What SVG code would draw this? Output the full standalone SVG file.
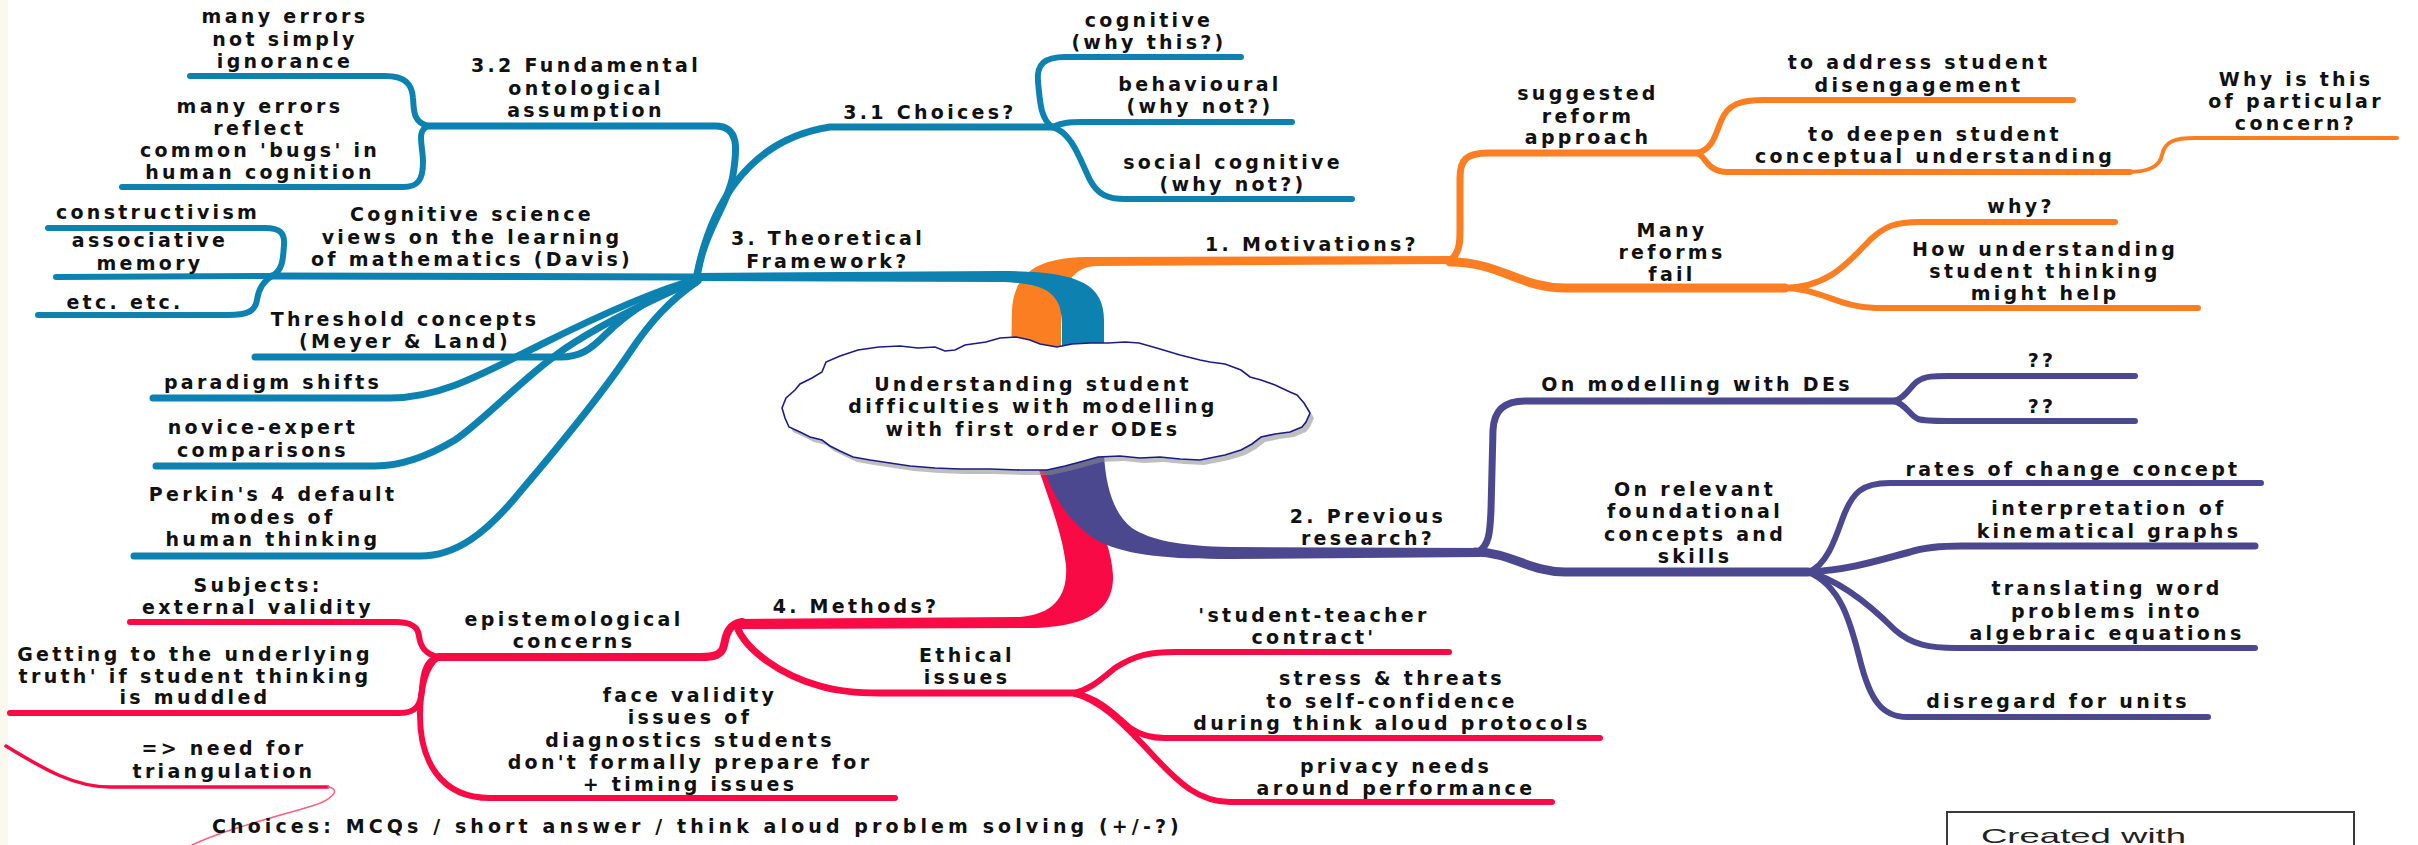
<svg xmlns="http://www.w3.org/2000/svg" width="2418" height="845" viewBox="0 0 2418 845">
<defs>
<style>
.t{font-family:"DejaVu Sans",sans-serif;font-weight:bold;font-size:19px;letter-spacing:3.3px;fill:#111;text-anchor:middle}
.ts{text-anchor:start}
.ln{fill:none;stroke-linecap:round;stroke-linejoin:round}
.b{stroke:#0d82b1}.o{stroke:#fb7f22}.p{stroke:#4c4890}.r{stroke:#f80a45}
.bf{fill:#0d82b1}.of{fill:#fb7f22}.pf{fill:#4c4890}.rf{fill:#f80a45}
.w4{stroke-width:4}.w6{stroke-width:6}.w7{stroke-width:7}.w8{stroke-width:8}.w9{stroke-width:9}
.thin{stroke:#f7607e;stroke-width:1.5}
.cloud{fill:#fff;stroke:#1c1c86;stroke-width:1.6}
.shadow{fill:#8a8a8a;opacity:.55}
.credit{font-family:"Liberation Sans",sans-serif;font-size:21px;fill:#222}
</style>
<path id="cloudShape" d="M782,408 L786,398 L795,390 L800,384 L812,378 L822,372 L826,362 L840,356 L858,350 L879,347 L900,346 L918,348 L935,347 L945,351 L955,350 L965,345 L986,342 L1000,338 L1016,337 L1030,340 L1040,344 L1057,347 L1072,344 L1090,343 L1108,343 L1125,342 L1139,343 L1160,349 L1180,355 L1200,360 L1210,362 L1225,364 L1241,370 L1250,377 L1261,380 L1275,385 L1290,392 L1297,395 L1304,403 L1310,413 L1306,422 L1302,427 L1290,432 L1275,434 L1261,437 L1252,444 L1241,450 L1225,455 L1210,458 L1200,460 L1180,459 L1160,457 L1140,458 L1120,456 L1098,457 L1080,462 L1065,466 L1047,470 L1020,470 L990,469 L960,469 L935,468 L910,466 L890,463 L870,460 L853,457 L840,451 L830,446 L822,440 L810,437 L800,432 L789,427 L785,418 Z"/>
</defs>
<rect x="0" y="0" width="2418" height="845" fill="#fff"/>
<rect x="0" y="0" width="8" height="845" fill="#fbf8ee"/>

<g id="connectors">
  <!-- red trunk and branches -->
  <path class="rf" d="M1034,455 C1045,490 1062,530 1066,565 C1068,595 1055,614 1020,617 L740,619 L740,629 L1030,628 C1095,627 1114,605 1113,575 C1111,540 1090,500 1062,455 Z"/>
  <path class="ln r w8" d="M742,622 C728,624 726,635 724,645 C722,655 715,657 700,657 L439,657"/>
  <path class="ln r w7" d="M737,627 C746,650 780,675 820,686 C840,692 860,693 880,693 L1073,693"/>
  <path class="ln r w6" d="M439,657 C425,655 420,645 419,636 C418,626 410,622 395,622 L130,622"/>
  <path class="ln r w6" d="M439,657 C425,660 423,675 422,690 C421,706 415,713 400,713 L10,713"/>
  <path class="ln r w6" d="M439,657 C425,665 420,690 420,715 C420,760 440,798 490,798 L895,798"/>
  <path class="ln r w6" d="M1073,693 C1090,690 1100,680 1115,668 C1135,655 1150,652 1176,652 L1449,652"/>
  <path class="ln r w6" d="M1073,693 C1100,698 1115,715 1130,728 C1140,735 1150,738 1165,738 L1600,738"/>
  <path class="ln r w6" d="M1073,693 C1100,700 1120,720 1150,752 C1180,785 1200,802 1230,802 L1552,802"/>
  <path class="ln r" stroke-width="3.5" d="M6,746 C45,770 75,787 110,787 L328,787"/>
  <path class="ln thin" d="M328,787 C342,789 332,800 312,806 C272,818 222,830 188,847"/>

  <!-- purple trunk and branches -->
  <path class="pf" d="M1040,455 C1050,495 1070,525 1100,542 C1130,556 1170,559 1230,559 L1480,557 L1480,548 L1230,547 C1180,546 1150,540 1132,528 C1115,515 1106,490 1104,455 Z"/>
  <path class="ln p w7" d="M1478,552 C1490,545 1490,530 1491,510 L1493,430 C1494,410 1505,401 1525,401 L1894,401"/>
  <path class="ln p w9" d="M1475,552 C1510,552 1530,572 1565,572 L1808,572"/>
  <path class="ln p w6" d="M1894,401 C1906,398 1910,386 1918,381 C1925,376 1935,376 1947,376 L2135,376"/>
  <path class="ln p w6" d="M1894,401 C1906,404 1910,416 1918,419 C1925,421 1935,421 1947,421 L2135,421"/>
  <path class="ln p w6" d="M1808,572 C1826,566 1835,540 1842,520 C1852,492 1862,483 1890,483 L2261,483"/>
  <path class="ln p w7" d="M1808,572 C1850,570 1880,560 1910,552 C1925,547 1940,546 1962,546 L2255,546"/>
  <path class="ln p w6" d="M1808,572 C1840,580 1870,605 1895,630 C1912,645 1930,648 1956,648 L2255,648"/>
  <path class="ln p w6" d="M1808,572 C1840,585 1850,620 1860,660 C1870,700 1882,717 1907,717 L2208,717"/>

  <!-- orange trunk and branches -->
  <path class="of" d="M1011,360 L1012,310 C1014,275 1035,258 1085,257 L1455,256 L1455,264 L1095,266 C1075,267 1061,285 1061,310 L1061,360 Z"/>
  <path class="ln o w7" d="M1452,259 C1461,250 1460,238 1460,222 L1460,178 C1460,160 1466,153 1488,153 L1697,153"/>
  <path class="ln o w9" d="M1450,262 C1500,262 1520,288 1565,288 L1785,288"/>
  <path class="ln o w6" d="M1697,153 C1712,150 1715,136 1721,121 C1728,104 1740,100 1765,100 L2073,100"/>
  <path class="ln o w6" d="M1697,153 C1706,156 1707,172 1727,172 L2130,172"/>
  <path class="ln o w4" d="M2128,172 C2150,172 2160,166 2162,155 C2165,141 2175,138 2195,138 L2397,138"/>
  <path class="ln o w6" d="M1783,288 C1830,288 1850,260 1870,240 C1885,226 1895,222 1920,222 L2115,222"/>
  <path class="ln o w6" d="M1783,288 C1820,288 1840,308 1876,308 L2198,308"/>

  <!-- blue trunk and branches -->
  <path class="bf" d="M694,273 L1000,271 C1075,271 1104,282 1104,320 L1104,360 L1062,360 L1062,325 C1062,292 1045,283 1000,282 L694,281 Z"/>
  <path class="ln b w7" d="M697,274 C710,210 745,140 830,127 L1052,127"/>
  <path class="ln b w6" d="M1052,127 C1040,118 1040,100 1038,82 C1036,64 1045,57 1065,57 L1241,57"/>
  <path class="ln b w6" d="M1052,127 C1062,123 1068,122 1082,122 L1292,122"/>
  <path class="ln b w6" d="M1052,127 C1072,132 1080,160 1090,180 C1098,195 1108,199 1125,199 L1352,199"/>
  <path class="ln b w7" d="M698,272 C705,230 728,205 733,175 C737,150 740,126 715,126 L428,126"/>
  <path class="ln b w6" d="M428,126 C412,122 414,108 413,98 C412,84 405,76 385,76 L190,76"/>
  <path class="ln b w6" d="M428,126 C416,131 423,145 423,162 C423,180 418,187 403,187 L122,187"/>
  <path class="ln b w7" d="M698,277 L272,276"/>
  <path class="ln b w6" d="M272,276 C284,270 283,255 284,245 C285,233 280,228 265,228 L48,228"/>
  <path class="ln b w6" d="M272,276 L56,277"/>
  <path class="ln b w6" d="M272,276 C262,282 258,292 257,300 C255,312 246,315 228,315 L38,315"/>
  <path class="ln b w7" d="M697,279 C660,292 630,310 605,335 C590,350 580,357 560,357 L255,357"/>
  <path class="ln b w7" d="M697,279 C650,292 590,320 540,345 C480,375 440,398 390,398 L153,398"/>
  <path class="ln b w7" d="M697,280 C660,296 610,320 575,342 C530,370 485,420 455,440 C425,458 400,466 375,466 L156,466"/>
  <path class="ln b w7" d="M698,281 C670,300 650,322 630,352 C600,397 560,445 520,492 C485,535 455,556 420,556 L134,556"/>
</g>

<g id="n-center">
  <use href="#cloudShape" class="shadow" transform="translate(4,5)"/>
  <use href="#cloudShape" class="cloud"/>
  <text class="t"><tspan x="1033" y="391">Understanding student</tspan><tspan x="1033" y="413">difficulties with modelling</tspan><tspan x="1033" y="436">with first order ODEs</tspan></text>
</g>

<g id="n-theory"><text class="t"><tspan x="828" y="245">3. Theoretical</tspan><tspan x="828" y="268">Framework?</tspan></text></g>
<g id="n-choices31"><text class="t" x="930" y="119">3.1 Choices?</text></g>
<g id="n-cognitive"><text class="t"><tspan x="1149" y="27">cognitive</tspan><tspan x="1149" y="49">(why this?)</tspan></text></g>
<g id="n-behavioural"><text class="t"><tspan x="1200" y="91">behavioural</tspan><tspan x="1200" y="113">(why not?)</tspan></text></g>
<g id="n-social"><text class="t"><tspan x="1233" y="169">social cognitive</tspan><tspan x="1233" y="191">(why not?)</tspan></text></g>
<g id="n-ontological"><text class="t"><tspan x="586" y="72">3.2 Fundamental</tspan><tspan x="586" y="95">ontological</tspan><tspan x="586" y="117">assumption</tspan></text></g>
<g id="n-errors1"><text class="t"><tspan x="285" y="23">many errors</tspan><tspan x="285" y="46">not simply</tspan><tspan x="285" y="68">ignorance</tspan></text></g>
<g id="n-errors2"><text class="t"><tspan x="260" y="113">many errors</tspan><tspan x="260" y="135">reflect</tspan><tspan x="260" y="157">common 'bugs' in</tspan><tspan x="260" y="179">human cognition</tspan></text></g>
<g id="n-cogsci"><text class="t"><tspan x="472" y="221">Cognitive science</tspan><tspan x="472" y="244">views on the learning</tspan><tspan x="472" y="266">of mathematics (Davis)</tspan></text></g>
<g id="n-constructivism"><text class="t" x="158" y="219">constructivism</text></g>
<g id="n-associative"><text class="t"><tspan x="150" y="247">associative</tspan><tspan x="150" y="270">memory</tspan></text></g>
<g id="n-etc"><text class="t" x="125" y="309">etc. etc.</text></g>
<g id="n-threshold"><text class="t"><tspan x="405" y="326">Threshold concepts</tspan><tspan x="405" y="348">(Meyer &amp; Land)</tspan></text></g>
<g id="n-paradigm"><text class="t" x="273" y="389">paradigm shifts</text></g>
<g id="n-novice"><text class="t"><tspan x="263" y="434">novice-expert</tspan><tspan x="263" y="457">comparisons</tspan></text></g>
<g id="n-perkin"><text class="t"><tspan x="273" y="501">Perkin's 4 default</tspan><tspan x="273" y="524">modes of</tspan><tspan x="273" y="546">human thinking</tspan></text></g>

<g id="n-motivations"><text class="t" x="1312" y="251">1. Motivations?</text></g>
<g id="n-suggested"><text class="t"><tspan x="1588" y="100">suggested</tspan><tspan x="1588" y="123">reform</tspan><tspan x="1588" y="144">approach</tspan></text></g>
<g id="n-address"><text class="t"><tspan x="1919" y="69">to address student</tspan><tspan x="1919" y="92">disengagement</tspan></text></g>
<g id="n-deepen"><text class="t"><tspan x="1935" y="141">to deepen student</tspan><tspan x="1935" y="163">conceptual understanding</tspan></text></g>
<g id="n-concern"><text class="t"><tspan x="2296" y="86">Why is this</tspan><tspan x="2296" y="108">of particular</tspan><tspan x="2296" y="130">concern?</tspan></text></g>
<g id="n-fail"><text class="t"><tspan x="1672" y="237">Many</tspan><tspan x="1672" y="259">reforms</tspan><tspan x="1672" y="281">fail</tspan></text></g>
<g id="n-why"><text class="t" x="2021" y="213">why?</text></g>
<g id="n-how"><text class="t"><tspan x="2045" y="256">How understanding</tspan><tspan x="2045" y="278">student thinking</tspan><tspan x="2045" y="300">might help</tspan></text></g>

<g id="n-previous"><text class="t"><tspan x="1368" y="523">2. Previous</tspan><tspan x="1368" y="545">research?</tspan></text></g>
<g id="n-modelling"><text class="t" x="1697" y="391">On modelling with DEs</text></g>
<g id="n-q1"><text class="t" x="2042" y="367">??</text></g>
<g id="n-q2"><text class="t" x="2042" y="413">??</text></g>
<g id="n-relevant"><text class="t"><tspan x="1695" y="496">On relevant</tspan><tspan x="1695" y="518">foundational</tspan><tspan x="1695" y="541">concepts and</tspan><tspan x="1695" y="563">skills</tspan></text></g>
<g id="n-rates"><text class="t" x="2073" y="476">rates of change concept</text></g>
<g id="n-interp"><text class="t"><tspan x="2109" y="515">interpretation of</tspan><tspan x="2109" y="538">kinematical graphs</tspan></text></g>
<g id="n-translating"><text class="t"><tspan x="2107" y="595">translating word</tspan><tspan x="2107" y="618">problems into</tspan><tspan x="2107" y="640">algebraic equations</tspan></text></g>
<g id="n-disregard"><text class="t" x="2058" y="708">disregard for units</text></g>

<g id="n-methods"><text class="t" x="856" y="613">4. Methods?</text></g>
<g id="n-epist"><text class="t"><tspan x="574" y="626">epistemological</tspan><tspan x="574" y="648">concerns</tspan></text></g>
<g id="n-subjects"><text class="t"><tspan x="258" y="592">Subjects:</tspan><tspan x="258" y="614">external validity</tspan></text></g>
<g id="n-getting"><text class="t"><tspan x="195" y="661">Getting to the underlying</tspan><tspan x="195" y="683">truth' if student thinking</tspan><tspan x="195" y="704">is muddled</tspan></text></g>
<g id="n-face"><text class="t"><tspan x="690" y="702">face validity</tspan><tspan x="690" y="724">issues of</tspan><tspan x="690" y="747">diagnostics students</tspan><tspan x="690" y="769">don't formally prepare for</tspan><tspan x="690" y="791">+ timing issues</tspan></text></g>
<g id="n-ethical"><text class="t"><tspan x="967" y="662">Ethical</tspan><tspan x="967" y="684">issues</tspan></text></g>
<g id="n-contract"><text class="t"><tspan x="1314" y="622">'student-teacher</tspan><tspan x="1314" y="644">contract'</tspan></text></g>
<g id="n-stress"><text class="t"><tspan x="1392" y="685">stress &amp; threats</tspan><tspan x="1392" y="708">to self-confidence</tspan><tspan x="1392" y="730">during think aloud protocols</tspan></text></g>
<g id="n-privacy"><text class="t"><tspan x="1396" y="773">privacy needs</tspan><tspan x="1396" y="795">around performance</tspan></text></g>
<g id="n-triangulation"><text class="t"><tspan x="224" y="755">=&gt; need for</tspan><tspan x="224" y="778">triangulation</tspan></text></g>
<g id="n-mcq"><text class="t ts" x="212" y="833" textLength="970" lengthAdjust="spacing">Choices: MCQs / short answer / think aloud problem solving (+/-?)</text></g>

<g id="n-created">
  <rect x="1947" y="812" width="407" height="45" fill="#fff" stroke="#3a3a3a" stroke-width="2"/>
  <text class="credit" x="1981" y="843" textLength="205" lengthAdjust="spacingAndGlyphs">Created with</text>
</g>
</svg>
